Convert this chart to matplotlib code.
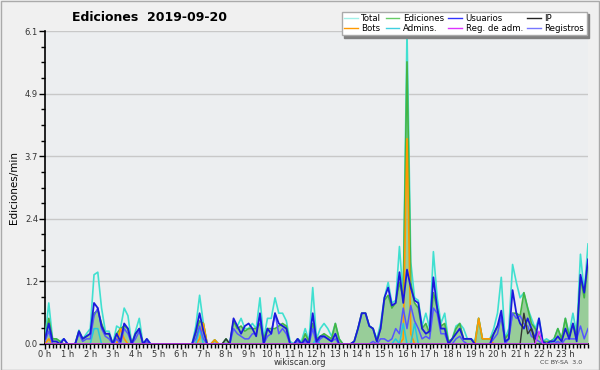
import matplotlib
matplotlib.use("Agg")
import matplotlib.pyplot as plt
import numpy as np
from matplotlib.ticker import FixedLocator, MultipleLocator, FormatStrFormatter
from matplotlib.patches import Rectangle

# 10-minute bins, 0 h .. 24 h
total = [0.1, 0.8, 0.1, 0.1, 0.05, 0.1,
         0, 0, 0, 0.27, 0.1, 0.2,
         0.3, 1.35, 1.4, 0.7, 0.25, 0.25,
         0.0, 0.35, 0.3, 0.7, 0.55, 0.0,
         0.25, 0.5, 0.0, 0.1, 0, 0,
         0, 0, 0, 0, 0, 0,
         0, 0, 0, 0, 0.35, 0.95,
         0.4, 0, 0, 0.08, 0, 0,
         0.1, 0, 0.45, 0.35, 0.5, 0.3,
         0.3, 0.4, 0.3, 0.9, 0.1, 0.5,
         0.5, 0.9, 0.6, 0.6, 0.45, 0.05,
         0, 0.1, 0.05, 0.3, 0.05, 1.1,
         0.1, 0.3, 0.4, 0.3, 0.15, 0.4,
         0.1, 0, 0, 0, 0.05, 0.3,
         0.6, 0.6, 0.35, 0.3, 0.1, 0.4,
         0.9, 1.2, 0.8, 0.85, 1.9, 0.9,
         6.1, 1.6, 0.9, 0.85, 0.35, 0.6,
         0.3, 1.8, 0.9, 0.4, 0.6, 0.05,
         0.1, 0.35, 0.4, 0.3, 0.1, 0.1,
         0.05, 0.5, 0.1, 0.1, 0.1, 0.3,
         0.6, 1.3, 0.1, 0.3, 1.55, 1.2,
         0.9, 1.0, 0.7, 0.5, 0.3, 0.5,
         0.05, 0.1, 0.05, 0.1, 0.3, 0.1,
         0.5, 0.2, 0.6, 0.2, 1.75, 1.0,
         1.95]
ediciones = [0.1, 0.5, 0.1, 0.1, 0.05, 0,
             0, 0, 0, 0.25, 0.1, 0.15,
             0.2, 0.6, 0.65, 0.4, 0.2, 0.2,
             0, 0.2, 0.3, 0.35, 0.3, 0,
             0.2, 0.3, 0, 0.05, 0, 0,
             0, 0, 0, 0, 0, 0,
             0, 0, 0, 0, 0.2, 0.45,
             0.4, 0, 0, 0.08, 0, 0,
             0.1, 0, 0.45, 0.3, 0.35, 0.25,
             0.3, 0.3, 0.3, 0.4, 0.1, 0.3,
             0.3, 0.3, 0.35, 0.4, 0.35, 0,
             0, 0.1, 0, 0.2, 0.05, 0.4,
             0.1, 0.15, 0.2, 0.15, 0.1, 0.4,
             0.1, 0, 0, 0, 0.05, 0.3,
             0.6, 0.6, 0.35, 0.3, 0.05, 0.3,
             0.85, 0.95, 0.7, 0.8, 1.2, 0.9,
             5.5, 1.2, 0.8, 0.7, 0.3, 0.4,
             0.2, 1.0, 0.7, 0.35, 0.4, 0.05,
             0.1, 0.3, 0.4, 0.1, 0.1, 0.1,
             0, 0.5, 0.1, 0.1, 0.1, 0.2,
             0.35, 0.5, 0.1, 0.2, 0.6, 0.6,
             0.55, 1.0, 0.7, 0.4, 0.3, 0.15,
             0.05, 0.05, 0.05, 0.1, 0.3, 0.1,
             0.5, 0.15, 0.4, 0.15, 1.3, 0.9,
             1.6]
usuarios = [0.1, 0.4, 0.05, 0.05, 0, 0.1,
            0, 0, 0, 0.25, 0.1, 0.15,
            0.2, 0.8, 0.7, 0.35, 0.2, 0.2,
            0, 0.2, 0.05, 0.4, 0.3, 0,
            0.2, 0.3, 0, 0.1, 0, 0,
            0, 0, 0, 0, 0, 0,
            0, 0, 0, 0, 0.25, 0.6,
            0.25, 0, 0, 0, 0, 0,
            0, 0, 0.5, 0.35, 0.2, 0.35,
            0.4, 0.3, 0.15, 0.6, 0, 0.3,
            0.2, 0.6, 0.4, 0.35, 0.3, 0,
            0, 0.1, 0, 0.1, 0, 0.6,
            0.05, 0.15, 0.15, 0.1, 0.05, 0.2,
            0, 0, 0, 0, 0.05, 0.3,
            0.6, 0.6, 0.35, 0.3, 0.05, 0.3,
            0.9, 1.1, 0.75, 0.8, 1.4, 0.8,
            1.45, 1.1, 0.85, 0.8, 0.3, 0.2,
            0.25, 1.3, 0.7, 0.3, 0.3, 0,
            0.1, 0.2, 0.3, 0.1, 0.1, 0.1,
            0, 0, 0, 0, 0, 0.2,
            0.35, 0.65, 0.05, 0.1, 1.05, 0.6,
            0.4, 0.3, 0.5, 0.3, 0.1, 0.5,
            0.05, 0, 0.05, 0.05, 0.15, 0.05,
            0.3, 0.1, 0.4, 0.05, 1.35, 1.0,
            1.65]
registros = [0.05, 0.25, 0, 0, 0, 0.1,
             0, 0, 0, 0.2, 0.05, 0.1,
             0.1, 0.55, 0.7, 0.3, 0.15, 0.1,
             0, 0.1, 0, 0.3, 0.2, 0,
             0.1, 0.25, 0, 0.05, 0, 0,
             0, 0, 0, 0, 0, 0,
             0, 0, 0, 0, 0.1, 0.35,
             0.1, 0, 0, 0, 0, 0,
             0, 0, 0.3, 0.2, 0.15, 0.1,
             0.1, 0.2, 0.2, 0.55, 0, 0.15,
             0.2, 0.6, 0.2, 0.3, 0.2, 0,
             0, 0.05, 0, 0.05, 0, 0.3,
             0, 0.1, 0.15, 0.1, 0.05, 0.1,
             0, 0, 0, 0, 0, 0,
             0, 0, 0, 0.05, 0, 0.1,
             0.1, 0.05, 0.1, 0.3, 0.2, 0.7,
             0.3, 0.75, 0.45, 0.3, 0.1, 0.15,
             0.1, 0.7, 0.6, 0.2, 0.2, 0,
             0, 0.1, 0.15, 0.05, 0, 0,
             0, 0, 0, 0, 0, 0.1,
             0.2, 0.55, 0, 0.1, 0.6, 0.5,
             0.55, 0.4, 0.35, 0.15, 0.1, 0.05,
             0, 0, 0, 0, 0.05, 0,
             0.1, 0.1, 0.1, 0.1, 0.35, 0.1,
             0.3]
bots = [0] * 145
for i, v in [(1, 0.1), (20, 0.3), (21, 0.1), (41, 0.1), (42, 0.4), (45, 0.08),
             (95, 0.1), (96, 4.0), (97, 0.2), (115, 0.5), (116, 0.1),
             (117, 0.1), (118, 0.1)]:
    bots[i] = v
admins = [0] * 145
for i, v in [(13, 0.3), (14, 0.3), (41, 0.3), (72, 0.1), (93, 0.1),
             (95, 0.4), (98, 0.4), (135, 0.1)]:
    admins[i] = v
ip = [0] * 145
for i, v in [(48, 0.1), (127, 0.6), (128, 0.2), (129, 0.3)]:
    ip[i] = v
regadm = [0] * 145
regadm[131] = 0.25

hours = np.arange(145) / 6.0
hour_labels = ["%d h" % h for h in range(24)]
y_ticks = [0, 1.22, 2.44, 3.66, 4.88, 6.1]

fig = plt.figure(figsize=(6, 3.7), dpi=100, facecolor="#f0f0f0")
ax = fig.add_axes([0.075, 0.0703, 0.905, 0.8457], facecolor="#eceef0")

ax.fill_between(hours, ediciones, color="#7cc27c", alpha=0.75, lw=0, zorder=2)
ax.plot(hours, total, color="#40e0d0", lw=1.2, zorder=3)
ax.plot(hours, ediciones, color="#44b444", lw=1.2, zorder=3)
ax.plot(hours, bots, color="#ff9900", lw=1.2, zorder=4)
ax.plot(hours, admins, color="#22c8e0", lw=1.1, zorder=4)
ax.plot(hours, registros, color="#5555ff", lw=1.1, zorder=4)
ax.plot(hours, usuarios, color="#1a1adc", lw=1.3, zorder=5)
ax.plot(hours, ip, color="#333333", lw=1.0, zorder=5)
ax.plot(hours, regadm, color="#dd33ff", lw=1.0, zorder=5)

ax.set_xlim(0, 24)
ax.set_ylim(0, 6.1)
ax.xaxis.set_major_locator(FixedLocator(range(24)))
ax.set_xticklabels(hour_labels)
ax.xaxis.set_minor_locator(MultipleLocator(1 / 6))
ax.yaxis.set_major_locator(FixedLocator(y_ticks))
ax.yaxis.set_major_formatter(FormatStrFormatter("%.1f"))
ax.yaxis.set_minor_locator(MultipleLocator(1.22 / 4))
ax.tick_params(axis="both", which="major", labelsize=6, labelcolor="#333333",
               length=4, width=1, pad=1)
ax.tick_params(axis="x", which="major", length=3.5, pad=0.5)
ax.tick_params(axis="both", which="minor", length=3, width=1)
ax.grid(axis="y", which="major", color="#c8c8c8", lw=1)
ax.set_axisbelow(True)
for s in ["top", "right"]:
    ax.spines[s].set_visible(False)
ax.spines["left"].set_linewidth(1.2)
ax.spines["bottom"].set_linewidth(1.2)
ax.set_ylabel("Ediciones/min", fontsize=7.5, labelpad=4)

fig.text(0.25, 0.952, "Ediciones  2019-09-20", fontsize=9, fontweight="bold",
         ha="center", va="center")
fig.text(0.5, 0.02, "wikiscan.org", fontsize=6, color="#333333", ha="center", va="center")
fig.text(0.935, 0.02, "CC BY-SA  3.0", fontsize=4.5, color="#444444", ha="center", va="center")

leg_labels = ["Total", "Bots", "Ediciones", "Admins.", "Usuarios", "Reg. de adm.", "IP", "Registros"]
leg_colors = ["#a0f0e8", "#ff9900", "#66cc66", "#40d0e0", "#3333ff", "#dd33ff", "#222222", "#7777ff"]
handles = [plt.Line2D([], [], color=c, lw=1) for c in leg_colors]
leg = fig.legend(handles, leg_labels, ncol=4, loc="upper right",
                 bbox_to_anchor=(0.985, 0.98), fontsize=6.2, frameon=True,
                 fancybox=False, handlelength=1.6, handletextpad=0.4,
                 columnspacing=0.5, labelspacing=0.05, borderpad=0.3,
                 shadow={"color": "#808080", "alpha": 1})
leg.get_frame().set_facecolor("white")
leg.get_frame().set_edgecolor("#aaaaaa")
leg.get_frame().set_alpha(1)
leg.set_zorder(11)

fig.patches.append(Rectangle((0.001, 0.001), 0.997, 0.997, transform=fig.transFigure,
                             facecolor="none", edgecolor="#aaaaaa", lw=1))

fig.savefig("out.png", dpi=100, facecolor=fig.get_facecolor())
